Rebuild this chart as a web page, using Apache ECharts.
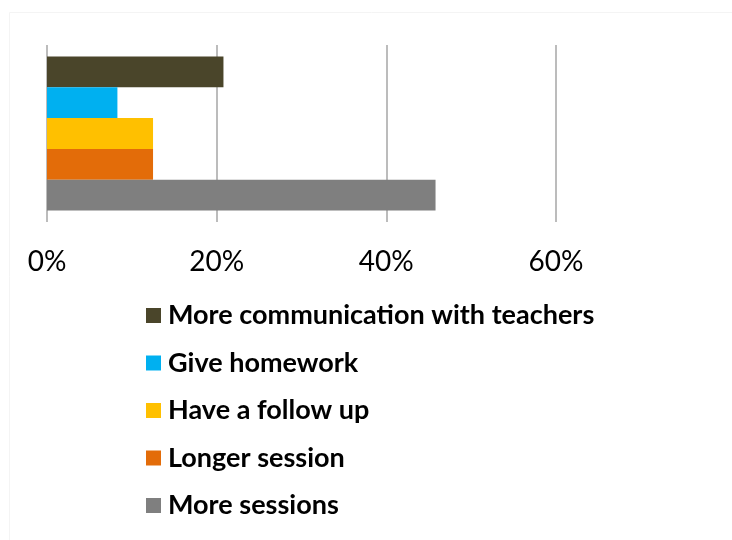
<!DOCTYPE html>
<html>
<head>
<meta charset="utf-8">
<script src="https://cdn.jsdelivr.net/npm/echarts@6/dist/echarts.min.js"></script>
<style>
  html, body { margin: 0; padding: 0; background: #ffffff; }
  #chart { width: 732px; height: 540px; }
</style>
</head>
<body>
<div id="chart"></div>
<script>
// Share of answers per suggested improvement
const categories = [''];
const seriesNames = [
  'More communication with teachers',
  'Give homework',
  'Have a follow up',
  'Longer session',
  'More sessions'
];
const seriesValues = [0.208, 0.083, 0.125, 0.125, 0.458];
const seriesColors = ['#4a452a', '#00b0f0', '#ffc000', '#e36c09', '#7f7f7f'];
const axisTicks = [0, 0.2, 0.4, 0.6];

const chart = echarts.init(document.getElementById('chart'), null, { renderer: 'canvas' });

const series = seriesNames.map((name, i) => ({
  name: name,
  type: 'bar',
  data: [seriesValues[i]],
  barGap: '0%',
  barCategoryGap: '13%',
  itemStyle: { color: seriesColors[i] },
  silent: true
}));

chart.setOption({
  backgroundColor: '#ffffff',
  animation: false,
  graphic: [{
    type: 'rect',
    shape: { x: 9.5, y: 12.5, width: 740, height: 540 },
    style: { fill: 'none', stroke: '#f4f4f4', lineWidth: 1 },
    silent: true
  }],
  grid: { left: 47, right: 176, top: 45, height: 177, containLabel: false },
  xAxis: {
    type: 'value',
    min: axisTicks[0],
    max: axisTicks[axisTicks.length - 1],
    interval: axisTicks[1] - axisTicks[0],
    axisLine: { show: false },
    axisTick: { show: false },
    splitLine: { show: true, lineStyle: { color: '#a6a6a6', width: 1.5 } },
    axisLabel: {
      margin: 26,
      fontFamily: 'Lato',
      fontSize: 28,
      color: '#000000',
      formatter: v => Math.round(v * 100) + '%'
    }
  },
  yAxis: {
    type: 'category',
    data: categories,
    inverse: true,
    axisLine: { show: false },
    axisTick: { show: false },
    axisLabel: { show: false },
    splitLine: { show: false }
  },
  legend: {
    orient: 'vertical',
    left: 146,
    top: 302,
    padding: 0,
    itemWidth: 15,
    itemHeight: 15,
    itemGap: 20.5,
    icon: 'rect',
    selectedMode: false,
    data: seriesNames,
    textStyle: {
      fontFamily: 'Lato',
      fontWeight: 'bold',
      fontSize: 27,
      lineHeight: 27,
      color: '#000000',
      padding: [0, 0, 0, 2]
    }
  },
  series: series
});
</script>
</body>
</html>
